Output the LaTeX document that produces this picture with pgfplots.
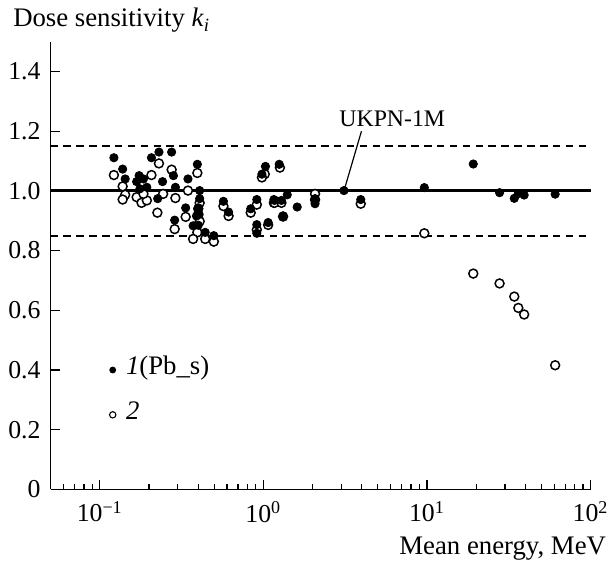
\documentclass[border=0pt]{standalone}
\usepackage{fontspec}
\setmainfont{Liberation Serif}
\usepackage{pgfplots}
\pgfplotsset{compat=1.18}

\begin{document}
\begin{tikzpicture}
\begin{axis}[
  scale only axis, width=272.5pt, height=226pt,
  xmode=log, xmin=0.05, xmax=100, ymin=0, ymax=1.5,
  axis lines=left, axis line style={-, line width=0.7pt},
  tick align=inside,
  major tick length=5pt, minor tick length=3pt,
  every tick/.style={black, line width=0.6pt},
  xtick={0.1,1,10,100},
  minor xtick={0.06,0.07,0.08,0.09,0.2,0.3,0.4,0.5,0.6,0.7,0.8,0.9,2,3,4,5,6,7,8,9,20,30,40,50,60,70,80,90},
  xticklabels={10\textsuperscript{−1},10\textsuperscript{0},10\textsuperscript{1},10\textsuperscript{2}},
  ytick={0,0.2,0.4,0.6,0.8,1.0,1.2,1.4},
  yticklabels={0,0.2,0.4,0.6,0.8,1.0,1.2,1.4},
  ticklabel style={font=\fontsize{13}{15}\selectfont},
  xticklabel style={yshift=-2.5pt},
  yticklabel style={xshift=-1.5pt},
  clip=false
]
% reference lines
\addplot[black, line width=1.5pt] coordinates {(0.05,1)(100,1)};
\addplot[black, line width=1.1pt, dash pattern=on 3.8pt off 2.7pt] coordinates {(0.05,1.15)(100,1.15)};
\addplot[black, line width=1.1pt, dash pattern=on 3.8pt off 2.7pt] coordinates {(0.05,0.85)(100,0.85)};

% series 2 (open)
\addplot[only marks, mark=*, mark size=2.25pt, mark options={fill=white, draw=black, line width=0.75pt}] coordinates {
  (0.122,1.053)(0.138,1.015)(0.143,0.987)(0.138,0.971)(0.168,0.979)(0.180,0.960)
  (0.194,0.968)(0.185,0.990)(0.207,1.053)(0.230,1.092)(0.275,1.071)(0.244,0.990)
  (0.225,0.927)(0.290,0.976)(0.346,1.001)(0.335,0.913)(0.287,0.872)(0.395,1.060)
  (0.408,0.960)(0.400,0.940)(0.408,0.898)(0.395,0.861)(0.372,0.839)(0.441,0.839)
  (0.498,0.830)(0.570,0.949)(0.613,0.916)(0.837,0.927)(0.912,0.954)(0.912,0.870)
  (1.07,0.886)(1.02,1.056)(0.98,1.045)(1.16,0.960)(1.262,1.078)(1.17,0.960)
  (1.29,0.960)(1.32,0.914)(2.07,0.990)(2.07,0.970)(3.94,0.957)(9.64,0.858)
  (19.2,0.723)(27.8,0.690)(34.2,0.646)(36.2,0.608)(39.3,0.586)(60.8,0.416)};

% series 1 (filled)
\addplot[only marks, mark=*, mark size=2.1pt, black] coordinates {
  (0.122,1.111)(0.138,1.073)(0.143,1.040)(0.174,1.051)(0.168,1.031)(0.185,1.040)
  (0.194,1.012)(0.176,1.007)(0.207,1.111)(0.230,1.130)(0.275,1.130)(0.282,1.051)
  (0.242,1.031)(0.226,0.974)(0.290,1.012)(0.346,1.040)(0.335,0.943)(0.287,0.902)
  (0.395,1.089)(0.408,1.001)(0.408,0.974)(0.400,0.943)(0.405,0.921)(0.390,0.916)
  (0.372,0.883)(0.400,0.885)(0.441,0.861)(0.498,0.850)(0.570,0.965)(0.613,0.929)
  (0.837,0.940)(0.912,0.971)(0.912,0.887)(0.912,0.858)(1.07,0.894)(1.03,1.082)
  (0.98,1.056)(1.16,0.971)(1.25,1.089)(1.17,0.968)(1.29,0.968)(1.40,0.987)
  (1.61,0.946)(1.32,0.916)(2.07,0.974)(2.07,0.957)(3.11,1.001)(3.94,0.971)
  (9.64,1.011)(19.2,1.090)(27.8,0.994)(34.2,0.975)(36.2,0.991)(39.3,0.986)
  (60.8,0.989)};

% key
\addplot[only marks, mark=*, mark size=1.5pt, black] coordinates {(0.12,0.40)};
\addplot[only marks, mark=*, mark size=1.6pt, mark options={fill=white, draw=black, line width=0.55pt}] coordinates {(0.12,0.25)};
\node[anchor=base west, inner sep=0pt, font=\fontsize{13.5}{15}\selectfont] at ([shift={(6.5pt,-2.2pt)}]axis cs:0.12,0.40) {\textit{1}(Pb\_s)};
\node[anchor=base west, inner sep=0pt, font=\fontsize{13.5}{15}\selectfont] at ([shift={(6.5pt,-2.2pt)}]axis cs:0.12,0.25) {\textit{2}};

% annotation
\draw[black, line width=0.6pt] (axis cs:3.98,1.2) -- (axis cs:3.11,1.0);
\node[font=\fontsize{12}{14}\selectfont, inner sep=0pt] at (axis cs:6.14,1.242) {UKPN-1M};

% axis titles
\node[anchor=base west, inner sep=0pt, font=\fontsize{13.5}{15}\selectfont] at ([shift={(-19pt,7.5pt)}]rel axis cs:0,1) {Dose sensitivity \textit{k}\textsubscript{\textit{i}}};
\node[anchor=base east, inner sep=0pt, font=\fontsize{13.5}{15}\selectfont] at ([shift={(8pt,-33pt)}]rel axis cs:1,0) {Mean energy, MeV};

\path ([shift={(-25.5pt,-35.5pt)}]rel axis cs:0,0) rectangle ([shift={(9.5pt,21pt)}]rel axis cs:1,1);
\end{axis}
\end{tikzpicture}
\end{document}
